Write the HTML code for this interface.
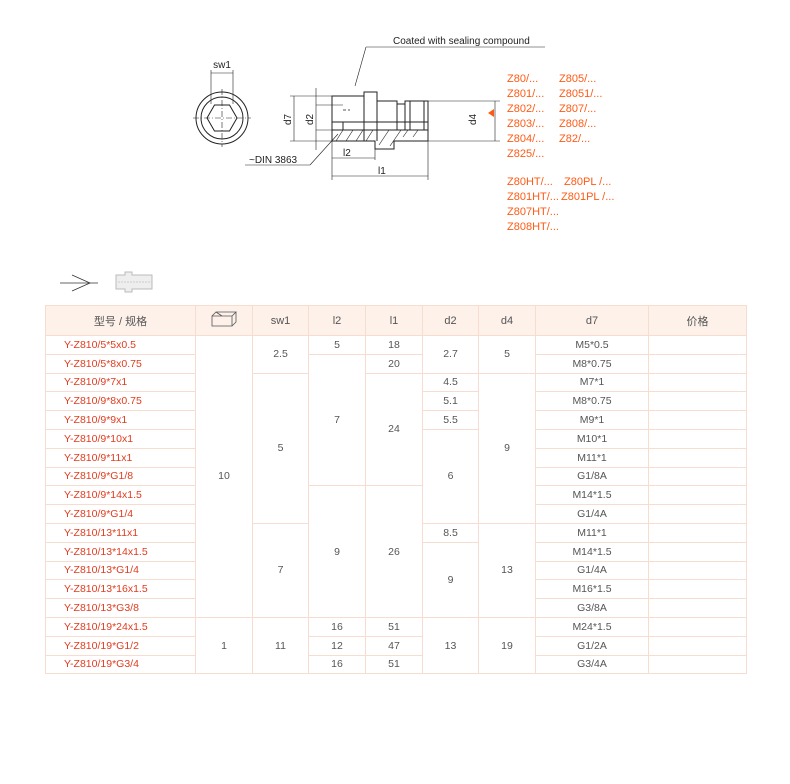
<!DOCTYPE html>
<html><head><meta charset="utf-8">
<style>
body{margin:0;background:#fff;width:790px;height:784px;overflow:hidden;position:relative;font-family:"Liberation Sans","Noto Sans CJK SC",sans-serif;}
svg text{font-family:"Liberation Sans",sans-serif;}
.z{position:absolute;color:#ff5a14;font-size:11px;line-height:15px;}
table{position:absolute;left:45px;top:305px;border-collapse:collapse;table-layout:fixed;width:701px;}
td,th{border:1px solid #f6ddd0;font-size:10.5px;color:#555;text-align:center;padding:0;font-weight:normal;}
th{background:#fdf1ea;height:29px;font-size:11px;}
td{height:17.8px;}
td.m{color:#e23b1e;text-align:left;padding-left:18px;}
</style></head><body>
<svg width="790" height="300" style="position:absolute;left:0;top:0" stroke="#222" fill="none" stroke-width="1">
<circle cx="222" cy="118" r="26"/><circle cx="222" cy="118" r="21"/>
<polygon points="237,118 229.5,131 214.5,131 207,118 214.5,105 229.5,105"/>
<line x1="193" y1="118" x2="251" y2="118" stroke-width="0.6" stroke-dasharray="6,2,1,2"/>
<line x1="222" y1="89" x2="222" y2="147" stroke-width="0.6" stroke-dasharray="6,2,1,2"/>
<line x1="211" y1="70" x2="211" y2="104" stroke-width="0.6"/><line x1="233" y1="70" x2="233" y2="104" stroke-width="0.6"/>
<line x1="211" y1="73" x2="233" y2="73" stroke-width="0.6"/>
<text x="222" y="68" font-size="10" fill="#222" stroke="none" text-anchor="middle">sw1</text>
<path d="M332,96 H364 V92 H377 V101 H397 V104 H405 V101 H428 V141 H394 V149 H375 V141 H332 Z"/>
<line x1="364" y1="92" x2="364" y2="141"/><line x1="377" y1="92" x2="377" y2="141"/>
<line x1="397" y1="101" x2="397" y2="130"/><line x1="405" y1="101" x2="405" y2="130"/><line x1="410" y1="101" x2="410" y2="130"/>
<line x1="424" y1="101" x2="424" y2="130"/>
<line x1="332" y1="122" x2="428" y2="122"/>
<line x1="343" y1="122" x2="343" y2="130"/>
<line x1="332" y1="130" x2="428" y2="130"/>
<line x1="343" y1="110" x2="350" y2="110" stroke-dasharray="3,2" stroke-width="0.7"/>
<g stroke-width="0.6"><line x1="336" y1="141" x2="343" y2="130"/><line x1="346" y1="141" x2="353" y2="130"/><line x1="356" y1="141" x2="363" y2="130"/><line x1="366" y1="141" x2="373" y2="130"/><line x1="379" y1="145" x2="389" y2="130"/><line x1="390" y1="146" x2="401" y2="130"/><line x1="403" y1="137" x2="408" y2="130"/><line x1="413" y1="137" x2="418" y2="130"/></g>
<g stroke-width="0.6">
<line x1="290" y1="96" x2="332" y2="96"/><line x1="290" y1="141" x2="332" y2="141"/>
<line x1="294" y1="96" x2="294" y2="141"/>
<line x1="316" y1="88" x2="316" y2="150"/><line x1="316" y1="105" x2="343" y2="105"/><line x1="316" y1="130" x2="343" y2="130"/>
<line x1="428" y1="101" x2="500" y2="101"/><line x1="428" y1="141" x2="500" y2="141"/>
<line x1="495" y1="101" x2="495" y2="141"/>
<line x1="332" y1="141" x2="332" y2="180"/><line x1="428" y1="141" x2="428" y2="180"/><line x1="375" y1="149" x2="375" y2="160"/>
<line x1="332" y1="158" x2="375" y2="158"/><line x1="332" y1="176" x2="428" y2="176"/>
<line x1="355" y1="86" x2="366" y2="47"/><line x1="366" y1="47" x2="545" y2="47"/>
<line x1="338" y1="134" x2="310" y2="165"/><line x1="310" y1="165" x2="245" y2="165"/>
</g>
<g fill="#222" stroke="none" font-size="10">
<text x="393" y="44">Coated with sealing compound</text>
<text x="249" y="163">~DIN 3863</text>
<text x="343" y="156">l2</text><text x="378" y="174">l1</text>
<text transform="translate(291,125) rotate(-90)">d7</text>
<text transform="translate(313,125) rotate(-90)">d2</text>
<text transform="translate(476,125) rotate(-90)">d4</text>
<polygon points="488,113 494,109 494,117" fill="#ff5a14"/>
</g>
<line x1="60" y1="283" x2="98" y2="283" stroke="#333" stroke-width="0.8"/>
<path d="M72,275 L90,283 L72,291" stroke="#333" stroke-width="0.8"/>
</svg>
<svg width="60" height="30" style="position:absolute;left:110px;top:268px">
<path d="M6,7 H15 V4 H22 V7 H42 V21 H22 V24 H15 V21 H6 Z" fill="#eee" stroke="#bbb"/>
<line x1="8" y1="14" x2="42" y2="14" stroke="#ccc" stroke-dasharray="2,1"/>
</svg>
<div class="z" style="left:507px;top:72px">Z80/...<br>Z801/...<br>Z802/...<br>Z803/...<br>Z804/...<br>Z825/...</div>
<div class="z" style="left:559px;top:72px">Z805/...<br>Z8051/...<br>Z807/...<br>Z808/...<br>Z82/...</div>
<div class="z" style="left:507px;top:175px">Z80HT/...<br>Z801HT/...<br>Z807HT/...<br>Z808HT/...</div>
<div class="z" style="left:561px;top:175px">&nbsp;Z80PL /...<br>Z801PL /...</div>
<table>
<colgroup><col style="width:150px"><col style="width:57px"><col style="width:56px"><col style="width:57px"><col style="width:57px"><col style="width:56px"><col style="width:57px"><col style="width:113px"><col style="width:98px"></colgroup>
<tr><th>型号 / 规格</th><th><svg width="30" height="18" viewBox="0 0 30 18"><path d="M3,6 H23 V16 H3 Z M3,6 L7,2 H27 L23,6 M27,2 V12 L23,16 M7,2 L13,6" fill="none" stroke="#555" stroke-width="0.8"/></svg></th><th>sw1</th><th>l2</th><th>l1</th><th>d2</th><th>d4</th><th>d7</th><th>价格</th></tr>
<tr><td class="m">Y-Z810/5*5x0.5</td><td rowspan="15">10</td><td rowspan="2">2.5</td><td>5</td><td>18</td><td rowspan="2">2.7</td><td rowspan="2">5</td><td>M5*0.5</td><td></td></tr>
<tr><td class="m">Y-Z810/5*8x0.75</td><td rowspan="7">7</td><td>20</td><td>M8*0.75</td><td></td></tr>
<tr><td class="m">Y-Z810/9*7x1</td><td rowspan="8">5</td><td rowspan="6">24</td><td>4.5</td><td rowspan="8">9</td><td>M7*1</td><td></td></tr>
<tr><td class="m">Y-Z810/9*8x0.75</td><td>5.1</td><td>M8*0.75</td><td></td></tr>
<tr><td class="m">Y-Z810/9*9x1</td><td>5.5</td><td>M9*1</td><td></td></tr>
<tr><td class="m">Y-Z810/9*10x1</td><td rowspan="5">6</td><td>M10*1</td><td></td></tr>
<tr><td class="m">Y-Z810/9*11x1</td><td>M11*1</td><td></td></tr>
<tr><td class="m">Y-Z810/9*G1/8</td><td>G1/8A</td><td></td></tr>
<tr><td class="m">Y-Z810/9*14x1.5</td><td rowspan="7">9</td><td rowspan="7">26</td><td>M14*1.5</td><td></td></tr>
<tr><td class="m">Y-Z810/9*G1/4</td><td>G1/4A</td><td></td></tr>
<tr><td class="m">Y-Z810/13*11x1</td><td rowspan="5">7</td><td>8.5</td><td rowspan="5">13</td><td>M11*1</td><td></td></tr>
<tr><td class="m">Y-Z810/13*14x1.5</td><td rowspan="4">9</td><td>M14*1.5</td><td></td></tr>
<tr><td class="m">Y-Z810/13*G1/4</td><td>G1/4A</td><td></td></tr>
<tr><td class="m">Y-Z810/13*16x1.5</td><td>M16*1.5</td><td></td></tr>
<tr><td class="m">Y-Z810/13*G3/8</td><td>G3/8A</td><td></td></tr>
<tr><td class="m">Y-Z810/19*24x1.5</td><td rowspan="3">1</td><td rowspan="3">11</td><td>16</td><td>51</td><td rowspan="3">13</td><td rowspan="3">19</td><td>M24*1.5</td><td></td></tr>
<tr><td class="m">Y-Z810/19*G1/2</td><td>12</td><td>47</td><td>G1/2A</td><td></td></tr>
<tr><td class="m">Y-Z810/19*G3/4</td><td>16</td><td>51</td><td>G3/4A</td><td></td></tr>
</table>
</body></html>
